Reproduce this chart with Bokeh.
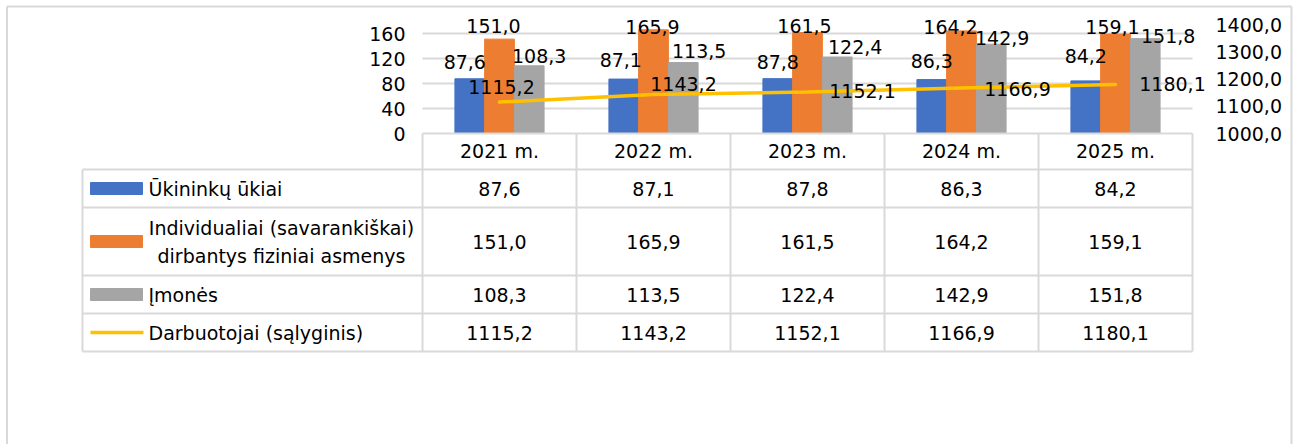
from bokeh.plotting import figure
from bokeh.models import (ColumnDataSource, Range1d, LinearAxis, FixedTicker,
                          CustomJSTickFormatter, LabelSet)
from bokeh.core.properties import value
from bokeh.embed import file_html
from bokeh.resources import INLINE

# ---------------- data ----------------
categories = ["2021 m.", "2022 m.", "2023 m.", "2024 m.", "2025 m."]
farms = [87.6, 87.1, 87.8, 86.3, 84.2]
individuals = [151.0, 165.9, 161.5, 164.2, 159.1]
companies = [108.3, 113.5, 122.4, 142.9, 151.8]
workers = [1115.2, 1143.2, 1152.1, 1166.9, 1180.1]
series_names = ["Ūkininkų ūkiai",
                "Individualiai (savarankiškai)\ndirbantys fiziniai asmenys",
                "Įmonės",
                "Darbuotojai (sąlyginis)"]
left_ticks = [0, 40, 80, 120, 160]
right_ticks = [1000, 1100, 1200, 1300, 1400]

# ---------------- styles ----------------
FONT = "DejaVu Sans"
FS = "19px"
BLUE, ORANGE, GRAY, YELLOW = "#4472C4", "#ED7D31", "#A5A5A5", "#FFC000"
RULE = "#D9D9D9"

# label nudges in pixels (dx right, dy up)
blue_dx, blue_dy = [-5, -3, 0, 0, 0], [10, 12, 10, 12, 18]
orange_dx, orange_dy = [-6, -1, -3, -11, -3], [6, -4, 0, -3, 0]
gray_dx, gray_dy = [10, 16, 18, 11, 23], [3, 5, 3.5, -1, -4]
line_dx, line_dy = [2, 30, 55, 56, 57], [15.5, 10.5, 1.5, -1, 0]

# ---------------- geometry (page px) ----------------
X0, Y0 = 0, 0
W, H = 1299, 444
FRAME_L, FRAME_R = 422, 1192
ZERO_Y = 133
PX_L = 0.625      # px per unit on the left axis
PX_R = 0.2725     # px per unit on the right axis
N = len(categories)
COLW = (FRAME_R - FRAME_L) / N
BW = 0.193
BORDER_L, BORDER_T, BORDER_R = 6.5, 6, 1291


def ux(page_x):
    return (page_x - FRAME_L) / COLW


def uy(page_y):
    return (ZERO_Y - page_y) / PX_L


def fmt(v):
    return f"{v:.1f}".replace(".", ",")


xc = [i + 0.5 for i in range(N)]
src = ColumnDataSource(dict(
    xc=xc, xb=[x - BW for x in xc], xg=[x + BW for x in xc],
    farms=farms, individuals=individuals, companies=companies, workers=workers,
    farms_l=[fmt(v) for v in farms], individuals_l=[fmt(v) for v in individuals],
    companies_l=[fmt(v) for v in companies], workers_l=[fmt(v) for v in workers],
    bdx=blue_dx, bdy=blue_dy, odx=orange_dx, ody=orange_dy,
    gdx=gray_dx, gdy=gray_dy, ldx=line_dx, ldy=line_dy,
))

p = figure(width=W, height=H,
           x_range=Range1d(ux(X0), ux(X0 + W)),
           y_range=Range1d(uy(Y0 + H), uy(Y0)),
           output_backend="svg", toolbar_location=None,
           min_border_left=0, min_border_right=0, min_border_top=0, min_border_bottom=0)
p.outline_line_color = None
p.background_fill_color = "white"
p.border_fill_color = "white"
p.grid.visible = False
p.extra_y_ranges = {"r": Range1d(1000 + (ZERO_Y - (Y0 + H)) / PX_R, 1000 + (ZERO_Y - Y0) / PX_R)}

# axes
ya = p.yaxis[0]
ya.fixed_location = 0
ya.ticker = FixedTicker(ticks=left_ticks)
ra = LinearAxis(y_range_name="r", ticker=FixedTicker(ticks=right_ticks),
                formatter=CustomJSTickFormatter(code="return tick.toFixed(1).replace('.', ',')"))
p.add_layout(ra, "right")
ra.fixed_location = N
xa = p.xaxis[0]
xa.fixed_location = 0
xa.bounds = (0, N)
xa.ticker = FixedTicker(ticks=xc)
xa.major_label_overrides = {x: c for x, c in zip(xc, categories)}
for ax, standoff in ((ya, 17), (ra, 23), (xa, 6)):
    ax.axis_line_color = None
    ax.major_tick_line_color = None
    ax.minor_tick_line_color = None
    ax.major_tick_out = 0
    ax.major_tick_in = 0
    ax.major_label_standoff = standoff
    ax.major_label_text_font = FONT
    ax.major_label_text_font_size = FS
    ax.major_label_text_color = "black"
xa.axis_line_color = RULE
xa.axis_line_width = 2

# gridlines of the plot area
gt = left_ticks[1:]
p.segment(x0=[0] * len(gt), y0=gt, x1=[N] * len(gt), y1=gt, line_color=RULE, line_width=2)

# bars and line
p.vbar(x="xb", top="farms", width=BW, fill_color=BLUE, line_color=BLUE, source=src)
p.vbar(x="xc", top="individuals", width=BW, fill_color=ORANGE, line_color=ORANGE, source=src)
p.vbar(x="xg", top="companies", width=BW, fill_color=GRAY, line_color=GRAY, source=src)
p.line(x="xc", y="workers", y_range_name="r", line_color=YELLOW, line_width=3.5,
       line_cap="round", source=src)

for xf, col, dx, dy in (("xb", "farms", "bdx", "bdy"), ("xc", "individuals", "odx", "ody"),
                        ("xg", "companies", "gdx", "gdy")):
    p.add_layout(LabelSet(x=xf, y=col, text=col + "_l", x_offset=dx, y_offset=dy,
                          source=src, text_align="center", text_baseline="alphabetic",
                          text_font=value(FONT), text_font_size=FS, text_color="black"))
p.add_layout(LabelSet(x="xc", y="workers", y_range_name="r", text="workers_l",
                      x_offset="ldx", y_offset="ldy", source=src, text_align="center",
                      text_baseline="middle", text_font=value(FONT),
                      text_font_size=FS, text_color="black"))

# ---------------- data table ----------------
TABLE_L = 82
ROWS = [169, 207, 275, 313, 351]     # page y of row boundaries below the header
row_mid = [(ROWS[k] + ROWS[k + 1]) / 2 for k in range(len(ROWS) - 1)]

hy = [uy(r) for r in ROWS]
p.segment(x0=[ux(TABLE_L)] * len(hy), y0=hy, x1=[N] * len(hy), y1=hy,
          line_color=RULE, line_width=2)
vx = [ux(TABLE_L)] + list(range(N + 1))
vy0 = [uy(ROWS[0])] + [0] * (N + 1)
p.segment(x0=vx, y0=vy0, x1=vx, y1=[uy(ROWS[-1])] * len(vx), line_color=RULE, line_width=2)

txt = dict(text_font=value(FONT), text_font_size=FS, text_color="black",
           text_baseline="middle")
for k, vals in enumerate((farms, individuals, companies, workers)):
    p.text(x=xc, y=[uy(row_mid[k])] * N, text=[fmt(v) for v in vals],
           text_align="center", **txt)

KEY_L, KEY_R, KEY_H, TEXT_X, TEXT_MID = 90, 142, 12, 148, 281
for k, c in enumerate((BLUE, ORANGE, GRAY)):
    m = row_mid[k]
    p.quad(left=[ux(KEY_L)], right=[ux(KEY_R)], top=[uy(m - KEY_H / 2)],
           bottom=[uy(m + KEY_H / 2)], fill_color=c, line_color=c)
p.line(x=[ux(KEY_L), ux(KEY_R + 1)], y=[uy(row_mid[3])] * 2, line_color=YELLOW, line_width=3.5)

for k, name in enumerate(series_names):
    m = row_mid[k]
    lines = name.split("\n")
    if len(lines) == 1:
        p.text(x=[ux(TEXT_X)], y=[uy(m)], text=[name], text_align="left", **txt)
    else:
        gap = 28
        ys = [uy(m - gap / 2 + j * gap) for j in range(len(lines))]
        p.text(x=[ux(TEXT_MID)] * len(lines), y=ys, text=lines, text_align="center", **txt)

# outer chart border (left, top, right)
p.segment(x0=[ux(BORDER_L), ux(BORDER_L), ux(BORDER_R)],
          y0=[uy(Y0 + H), uy(BORDER_T), uy(Y0 + H)],
          x1=[ux(BORDER_L), ux(BORDER_R), ux(BORDER_R)],
          y1=[uy(BORDER_T), uy(BORDER_T), uy(BORDER_T)],
          line_color=RULE, line_width=2)

open("out.html", "w").write(file_html(p, INLINE))
